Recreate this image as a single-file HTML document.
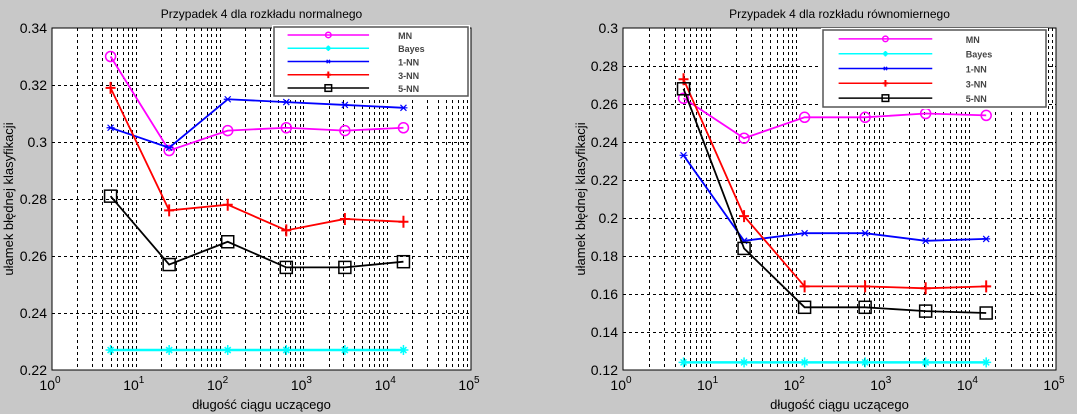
<!DOCTYPE html>
<html><head><meta charset="utf-8"><style>
body{margin:0;background:#c8c8c8;}
svg{display:block;font-family:"Liberation Sans",sans-serif;}
</style></head><body>
<svg id="c" width="1077" height="414"></svg>
<script>
const xs = [5, 25, 125, 625, 3125, 15625];
const seriesNames = ["MN","Bayes","1-NN","3-NN","5-NN"];
const seriesColors = ["#ff00ff","#00ffff","#0000ff","#ff0000","#000000"];
const leftMN = [0.330,0.297,0.304,0.305,0.304,0.305];
const leftBayes = [0.227,0.227,0.227,0.227,0.227,0.227];
const left1NN = [0.305,0.298,0.315,0.314,0.313,0.312];
const left3NN = [0.319,0.276,0.278,0.269,0.273,0.272];
const left5NN = [0.281,0.257,0.265,0.256,0.256,0.258];
const rightMN = [0.263,0.242,0.253,0.253,0.255,0.254];
const rightBayes = [0.124,0.124,0.124,0.124,0.124,0.124];
const right1NN = [0.233,0.188,0.192,0.192,0.188,0.189];
const right3NN = [0.273,0.201,0.164,0.164,0.163,0.164];
const right5NN = [0.268,0.184,0.153,0.153,0.151,0.150];
const leftYTicks = [0.22,0.24,0.26,0.28,0.30,0.32,0.34];
const leftYLabels = ["0.22","0.24","0.26","0.28","0.3","0.32","0.34"];
const rightYTicks = [0.12,0.14,0.16,0.18,0.20,0.22,0.24,0.26,0.28,0.30];
const rightYLabels = ["0.12","0.14","0.16","0.18","0.2","0.22","0.24","0.26","0.28","0.3"];

const NS="http://www.w3.org/2000/svg";
const svg=document.getElementById('c');
function mk(t,a,p){const e=document.createElementNS(NS,t);for(const k in a)e.setAttribute(k,a[k]);(p||svg).appendChild(e);return e;}

function marker(g,type,x,y,col,s){
  s=s||1;
  if(type==="MN"){mk('circle',{cx:x,cy:y,r:5*s,fill:'none',stroke:col,'stroke-width':1.5},g);}
  else if(type==="5-NN"){mk('rect',{x:x-6*s,y:y-6*s,width:12*s,height:12*s,fill:'none',stroke:col,'stroke-width':1.5},g);}
  else if(type==="3-NN"){mk('path',{d:`M${x-5*s},${y}H${x+5*s}M${x},${y-6*s}V${y+6*s}`,stroke:col,'stroke-width':2},g);}
  else if(type==="Bayes"){mk('path',{d:`M${x-5*s},${y}H${x+5*s}M${x},${y-5*s}V${y+5*s}M${x-3*s},${y-3*s}L${x+3*s},${y+3*s}M${x-3*s},${y+3*s}L${x+3*s},${y-3*s}`,stroke:col,'stroke-width':1.5},g);}
  else {mk('path',{d:`M${x-3*s},${y-3*s}L${x+3*s},${y+3*s}M${x-3*s},${y+3*s}L${x+3*s},${y-3*s}M${x-4*s},${y}H${x+4*s}`,stroke:col,'stroke-width':1.2},g);}
}

function plot(o){
  const {L,R,T,B,ymin,ymax,yt,yl,data,title,legend,name}=o;
  const g=mk('g',{});
  
  
  const sx=v=>L+(Math.log10(v)/5)*(R-L);
  const sy=v=>B-(v-ymin)/(ymax-ymin)*(B-T);
  mk('rect',{x:L,y:T,width:R-L,height:B-T,fill:'#fff'},g);
  const grid=mk('g',{stroke:'#000','stroke-width':1,'stroke-dasharray':'3,3'},g);
  
  
  for(let d=0;d<5;d++)for(let m=1;m<=9;m++){if(d===0&&m===1)continue;const x=Math.round(sx(m*Math.pow(10,d)))+0.5;mk('line',{x1:x,x2:x,y1:T,y2:B},grid);}
  yt.forEach(v=>{const y=Math.round(sy(v))+0.5;if(y>T+1&&y<B-1)mk('line',{x1:L,x2:R,y1:y,y2:y},grid);});
  mk('rect',{x:L,y:T,width:R-L,height:B-T,fill:'none',stroke:'#000'},g);
  yt.forEach((v,i)=>{const t=mk('text',{x:L-5,y:sy(v)+5,'text-anchor':'end','font-size':14},g);t.textContent=yl[i];
    });
  for(let d=0;d<=5;d++){const x=sx(Math.pow(10,d));const t=mk('text',{x:x-2,y:B+20,'text-anchor':'middle','font-size':14},g);
    t.innerHTML='10<tspan dy="-7" font-size="10">'+d+'</tspan>';
    }
  const tt=mk('text',{x:(L+R)/2,y:18,'text-anchor':'middle','font-size':12},g);tt.textContent=title;
  
  const xl=mk('text',{x:(L+R)/2,y:409,'text-anchor':'middle','font-size':13},g);xl.textContent='długość ciągu uczącego';
  
  const yx=o.ylx;
  const ylab=mk('text',{x:yx,y:(T+B)/2,'text-anchor':'middle','font-size':13,transform:`rotate(-90 ${yx} ${(T+B)/2})`},g);ylab.textContent='ułamek błędnej klasyfikacji';
  
  data.forEach((ys,si)=>{
    const col=seriesColors[si];
    const sg=mk('g',{},g);
    
    
    mk('polyline',{points:xs.map((x,i)=>sx(x)+','+sy(ys[i])).join(' '),fill:'none',stroke:col,'stroke-width':si===1?2.5:1.8},sg);
    xs.forEach((x,i)=>marker(sg,seriesNames[si],sx(x),sy(ys[i]),col));
  });
  const [lx,ly,lw,lh]=legend;
  const lg=mk('g',{},g);
  
  
  mk('rect',{x:lx-2,y:ly-2,width:lw+4,height:lh+4,fill:'#fff'},lg);
  mk('rect',{x:lx,y:ly,width:lw,height:lh,fill:'#fff',stroke:'#555','stroke-width':1.5},lg);
  seriesNames.forEach((n,i)=>{
    const y=ly+lh*(i+0.6)/5.2;
    const e=mk('g',{},lg);
    
    
    mk('line',{x1:lx+lw*0.07,x2:lx+lw*0.49,y1:y,y2:y,stroke:seriesColors[i],'stroke-width':1.5},e);
    marker(e,n,lx+lw*0.28,y,seriesColors[i],0.55);
    const t=mk('text',{x:lx+lw*0.64,y:y+4,'font-size':9,'font-weight':'bold',fill:'#444'},e);t.textContent=n;
  });
}
plot({name:'left-chart',L:52,R:471,T:28,B:370,ymin:0.22,ymax:0.34,yt:leftYTicks,yl:leftYLabels,
  data:[leftMN,leftBayes,left1NN,left3NN,left5NN],title:'Przypadek 4 dla rozkładu normalnego',legend:[274,27,194,69],ylx:13});
plot({name:'right-chart',L:623,R:1056,T:28,B:370,ymin:0.12,ymax:0.30,yt:rightYTicks,yl:rightYLabels,
  data:[rightMN,rightBayes,right1NN,right3NN,right5NN],title:'Przypadek 4 dla rozkładu równomiernego',legend:[823,30,223,77],ylx:585});
</script>
</body></html>
